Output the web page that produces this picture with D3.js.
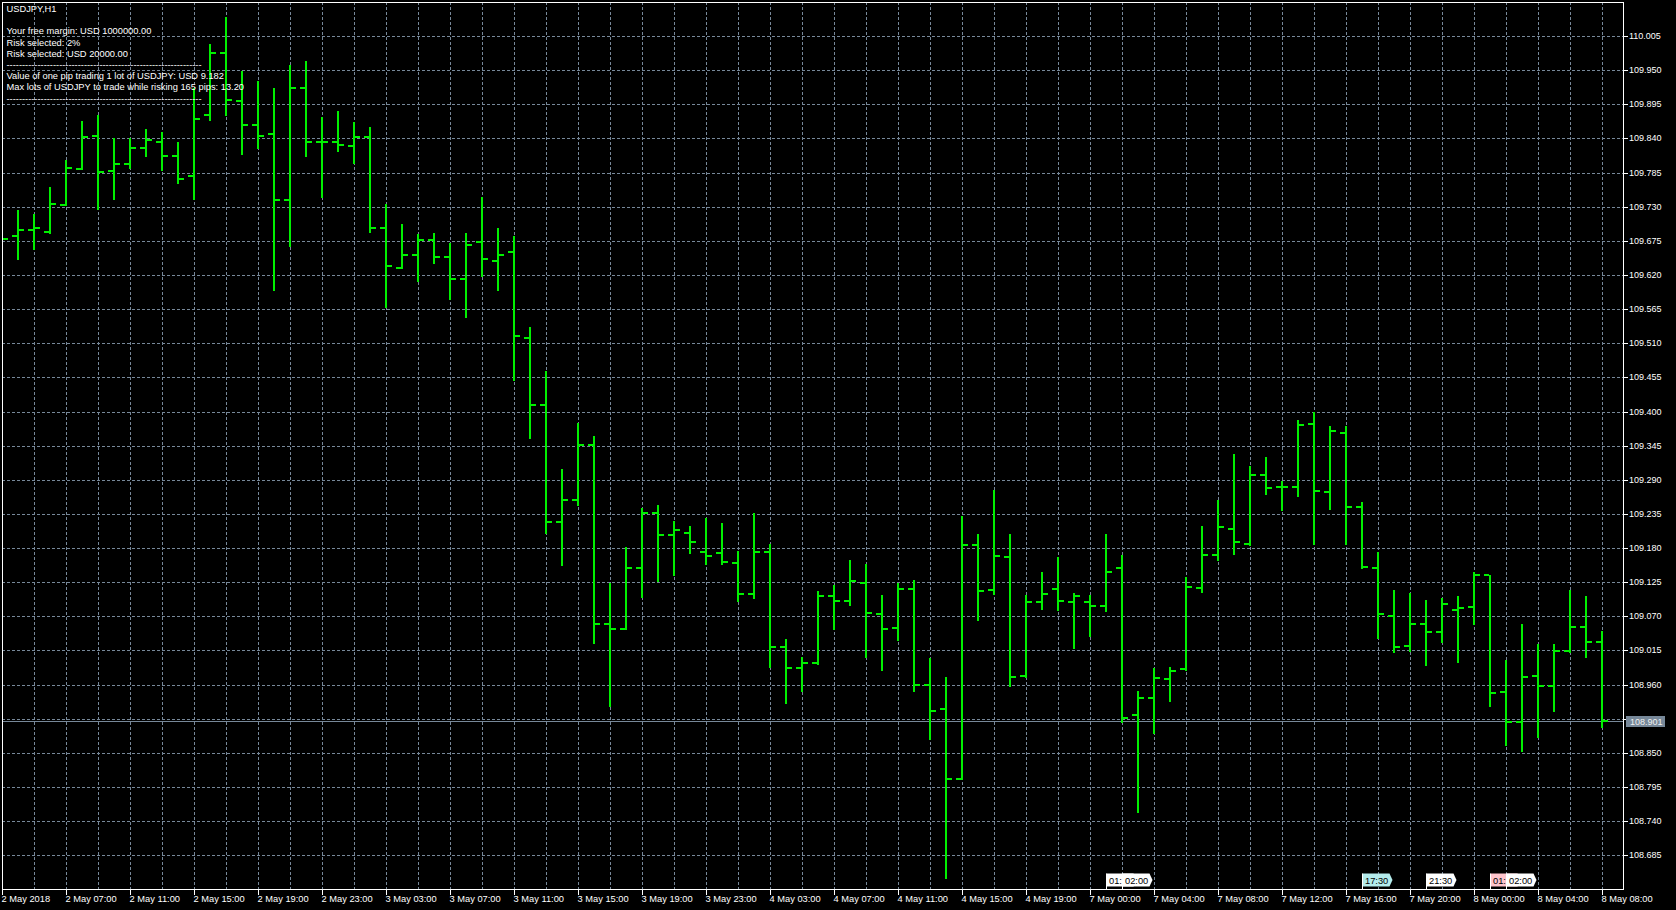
<!DOCTYPE html>
<html>
<head>
<meta charset="utf-8">
<script src="https://cdn.jsdelivr.net/npm/d3@7/dist/d3.min.js"></script>
<style>
    body { margin: 0; background: #000; overflow: hidden; }
    svg text { font-family: "Liberation Sans", Arial, sans-serif; }
</style>
</head>
<body>
<div id="rootDiv"></div>
<script>
// trading sessions shown on the chart (day, first hour, last hour) - weekend gap after 4 May
const sessions = [["2 May", 3, 23], ["3 May", 0, 23], ["4 May", 0, 22], ["7 May", 0, 23], ["8 May", 0, 8]]
const categories = []
for (const [day, from, to] of sessions) {
    for (let h = from; h <= to; h++) categories.push(`${day} ${String(h).padStart(2, '0')}:00`)
}

const open = [
    109.685, 109.683, 109.692, 109.690, 109.733, 109.791, 109.844, 109.788, 109.798, 109.825,
    109.835, 109.812, 109.780, 109.877, 109.977, 109.901, 109.862, 109.847, 109.741, 109.922,
    109.834, 109.834, 109.828, 109.843, 109.695, 109.632, 109.652, 109.677, 109.649, 109.614,
    109.673, 109.643, 109.657, 109.519, 109.410, 109.222, 109.257, 109.346, 109.057, 109.049,
    109.148, 109.236, 109.201, 109.205, 109.174, 109.172, 109.156, 109.106, 109.173, 109.021,
    108.986, 108.995, 109.102, 109.094, 109.124, 109.074, 109.051, 109.114, 108.959, 108.920,
    108.808, 109.185, 109.112, 109.165, 108.974, 109.093, 109.114, 109.093, 109.093, 109.086,
    109.148, 108.911, 108.938, 108.969, 108.985, 109.115, 109.169, 109.210, 109.186, 109.297,
    109.278, 109.278, 109.380, 109.270, 109.365, 109.246, 109.148, 109.071, 109.022, 109.057,
    109.045, 109.080, 109.085, 109.136, 108.948, 108.899, 108.974, 108.958, 109.014, 109.053,
    109.028
]
const high = [
    109.700, 109.725, 109.718, 109.761, 109.806, 109.868, 109.877, 109.840, 109.840, 109.855,
    109.851, 109.835, 109.922, 109.992, 110.036, 109.948, 109.933, 109.921, 109.958, 109.965,
    109.875, 109.884, 109.867, 109.858, 109.735, 109.702, 109.686, 109.688, 109.671, 109.688,
    109.745, 109.695, 109.683, 109.536, 109.465, 109.307, 109.381, 109.360, 109.124, 109.181,
    109.245, 109.249, 109.223, 109.215, 109.228, 109.220, 109.176, 109.236, 109.186, 109.034,
    109.004, 109.111, 109.121, 109.160, 109.154, 109.105, 109.123, 109.128, 109.003, 108.973,
    109.232, 109.203, 109.273, 109.203, 109.105, 109.142, 109.165, 109.108, 109.104, 109.203,
    109.169, 108.949, 108.986, 108.988, 109.133, 109.216, 109.257, 109.331, 109.312, 109.327,
    109.288, 109.387, 109.399, 109.377, 109.376, 109.255, 109.174, 109.113, 109.107, 109.096,
    109.099, 109.102, 109.141, 109.137, 108.999, 109.058, 109.025, 109.025, 109.113, 109.102,
    109.046
]
const low = [
    109.655, 109.645, 109.662, 109.687, 109.732, 109.791, 109.726, 109.743, 109.792, 109.811,
    109.789, 109.768, 109.742, 109.869, 109.878, 109.815, 109.824, 109.595, 109.667, 109.811,
    109.746, 109.819, 109.800, 109.689, 109.568, 109.632, 109.611, 109.639, 109.582, 109.553,
    109.618, 109.595, 109.451, 109.358, 109.204, 109.152, 109.250, 109.027, 108.926, 109.049,
    109.101, 109.127, 109.137, 109.172, 109.154, 109.155, 109.095, 109.100, 108.989, 108.931,
    108.949, 108.993, 109.049, 109.088, 109.005, 108.983, 109.032, 108.949, 108.872, 108.648,
    108.808, 109.064, 109.106, 108.957, 108.973, 109.082, 109.080, 109.019, 109.039, 109.078,
    108.900, 108.754, 108.882, 108.934, 108.984, 109.109, 109.160, 109.171, 109.185, 109.267,
    109.242, 109.264, 109.186, 109.243, 109.187, 109.148, 109.035, 109.012, 109.014, 108.991,
    109.028, 108.996, 109.057, 108.925, 108.862, 108.853, 108.876, 108.917, 109.012, 109.004,
    108.892
]
const close = [
    109.678, 109.693, 109.696, 109.735, 109.792, 109.843, 109.786, 109.798, 109.825, 109.837,
    109.812, 109.775, 109.872, 109.977, 109.902, 109.862, 109.844, 109.741, 109.922, 109.834,
    109.834, 109.829, 109.842, 109.696, 109.634, 109.652, 109.676, 109.649, 109.614, 109.668,
    109.645, 109.652, 109.522, 109.410, 109.222, 109.257, 109.346, 109.057, 109.049, 109.148,
    109.236, 109.201, 109.209, 109.189, 109.168, 109.158, 109.106, 109.173, 109.021, 108.986,
    108.995, 109.102, 109.094, 109.127, 109.076, 109.050, 109.114, 108.960, 108.918, 108.808,
    109.185, 109.111, 109.167, 108.973, 109.093, 109.106, 109.094, 109.102, 109.086, 109.141,
    108.907, 108.938, 108.970, 108.982, 109.117, 109.169, 109.214, 109.189, 109.297, 109.276,
    109.278, 109.379, 109.272, 109.368, 109.246, 109.149, 109.074, 109.020, 109.057, 109.045,
    109.090, 109.083, 109.136, 108.946, 108.899, 108.972, 108.958, 109.014, 109.053, 109.028,
    108.901
]

const priceTicks = [
    110.005, 109.950, 109.895, 109.840, 109.785, 109.730, 109.675, 109.620, 109.565, 109.510,
    109.455, 109.400, 109.345, 109.290, 109.235, 109.180, 109.125, 109.070, 109.015, 108.960,
    108.905, 108.850, 108.795, 108.740, 108.685
]
const lastPrice = 108.901
const firstTimeLabel = "2 May 2018"

const infoLines = [
    "USDJPY,H1",
    "",
    "Your free margin: USD 1000000.00",
    "Risk selected: 2%",
    "Risk selected: USD 20000.00",
    "---------------------------------------------------------------",
    "Value of one pip trading 1 lot of USDJPY: USD 9.182",
    "Max lots of USDJPY to trade while risking 165 pips: 13.20",
    "---------------------------------------------------------------"
]

const events = [
    { time: "7 May 01:00", label: "01:00", kind: "plain" },
    { time: "7 May 02:00", label: "02:00", kind: "plain" },
    { time: "7 May 17:00", label: "17:30", kind: "cyan" },
    { time: "7 May 21:00", label: "21:30", kind: "plain" },
    { time: "8 May 01:00", label: "01:00", kind: "pink" },
    { time: "8 May 02:00", label: "02:00", kind: "plain" }
]

// ---- layout / colours
const W = 1676, H = 910
const plot = { left: 2, right: 1623, top: 2, bottom: 889 }
const barColor = "#00f000"
const gridColor = "#778899"
const eventColors = { plain: "#ffffff", cyan: "#b4ecec", pink: "#ffc4cc" }
const flagWidth = 27

const x = d3.scalePoint()
    .domain(categories)
    .range([2, 1602])

const y = d3.scaleLinear()
    .domain([108.685, 110.005])
    .range([855.3, 36])

const svg = d3.select("#rootDiv")
    .append("svg")
    .attr("width", W)
    .attr("height", H)
    .style("display", "block")
    .style("background", "#000")

svg.append("clipPath").attr("id", "plotClip")
    .append("rect")
    .attr("x", plot.left + 1).attr("y", plot.top + 1)
    .attr("width", plot.right - plot.left - 1).attr("height", plot.bottom - plot.top - 1)

const inner = svg.append("g").attr("clip-path", "url(#plotClip)")

// grid
inner.append("g")
    .selectAll("line")
    .data(priceTicks)
    .enter()
    .append("line")
    .attr("x1", plot.left).attr("x2", plot.right)
    .attr("y1", d => Math.round(y(d)) + 0.5)
    .attr("y2", d => Math.round(y(d)) + 0.5)
    .attr("stroke", gridColor)
    .attr("stroke-dasharray", "3,2")

inner.append("g")
    .selectAll("line")
    .data(categories.filter((d, i) => i % 2 == 0 && i > 0))
    .enter()
    .append("line")
    .attr("x1", d => Math.round(x(d)) + 0.5)
    .attr("x2", d => Math.round(x(d)) + 0.5)
    .attr("y1", plot.top).attr("y2", plot.bottom)
    .attr("stroke", gridColor)
    .attr("stroke-dasharray", "3,2")

// last price line
inner.append("line")
    .attr("x1", plot.left).attr("x2", plot.right)
    .attr("y1", Math.round(y(lastPrice)) + 0.5)
    .attr("y2", Math.round(y(lastPrice)) + 0.5)
    .attr("stroke", gridColor)

// OHLC bars
const bars = inner.append("g")
    .attr("fill", barColor)
    .attr("shape-rendering", "crispEdges")
    .selectAll("g")
    .data(categories.map((c, i) => ({ c, o: open[i], h: high[i], l: low[i], cl: close[i] })))
    .enter()
    .append("g")

bars.append("rect")
    .attr("x", d => Math.round(x(d.c)) - 1)
    .attr("width", 2)
    .attr("y", d => Math.round(y(d.h)))
    .attr("height", d => Math.max(2, Math.round(y(d.l)) - Math.round(y(d.h)) + 1))

bars.append("rect")
    .attr("x", d => Math.round(x(d.c)) - 6)
    .attr("width", 5)
    .attr("y", d => Math.round(y(d.o)) - 1)
    .attr("height", 2)

bars.append("rect")
    .attr("x", d => Math.round(x(d.c)) + 1)
    .attr("width", 5)
    .attr("y", d => Math.round(y(d.cl)) - 1)
    .attr("height", 2)

// axes
const priceAxis = svg.append("g")
    .attr("transform", `translate(${plot.right},0)`)
    .call(d3.axisRight(y).tickValues(priceTicks).tickSize(5).tickPadding(1).tickFormat(d3.format(".3f")))

const timeTicks = categories.filter((d, i) => i % 4 == 0)
const timeAxis = svg.append("g")
    .attr("transform", `translate(0,${plot.bottom})`)
    .call(d3.axisBottom(x).tickValues(timeTicks).tickSize(6)
        .tickFormat((d, i) => i == 0 ? firstTimeLabel : d))

for (const axis of [priceAxis, timeAxis]) {
    axis.select(".domain").remove()
    axis.selectAll("line").attr("stroke", "#fff").attr("shape-rendering", "crispEdges")
    axis.selectAll("text").attr("fill", "#fff").style("font-size", "9.3px")
}
priceAxis.selectAll(".tick").attr("transform", d => `translate(0,${Math.round(y(d)) + 0.5})`)
priceAxis.selectAll("text").style("font-size", "9px")
timeAxis.selectAll(".tick").attr("transform", d => `translate(${Math.round(x(d)) + 0.5},0)`)
timeAxis.selectAll("text")
    .attr("text-anchor", "start")
    .attr("x", -1)
    .attr("y", 13)
    .attr("dy", 0)

// last price label
const lp = svg.append("g").attr("transform", `translate(1626,${Math.round(y(lastPrice))})`)
lp.append("rect").attr("x", 0).attr("y", -5).attr("width", 39).attr("height", 11).attr("fill", gridColor)
lp.append("text").attr("x", 4).attr("y", 3.5).attr("fill", "#f0f0f0").style("font-size", "9px").text(d3.format(".3f")(lastPrice))

// border
svg.append("rect")
    .attr("x", plot.left + 0.5).attr("y", plot.top + 0.5)
    .attr("width", plot.right - plot.left).attr("height", plot.bottom - plot.top)
    .attr("fill", "none")
    .attr("stroke", "#fff")
    .attr("shape-rendering", "crispEdges")

// event flags on the time axis; a flag covered by the next one only shows its first chars
function visibleLabel(d, i) {
    const next = events[i + 1]
    if (next && x(next.time) - x(d.time) < flagWidth) return d.label.slice(0, 3)
    return d.label
}

const flags = svg.append("g")
    .selectAll("g")
    .data(events)
    .enter()
    .append("g")
    .attr("transform", d => `translate(${Math.round(x(d.time)) + 0.5},873.5)`)

flags.append("path")
    .attr("d", `M0,0 H${flagWidth} L${flagWidth + 3},6.5 L${flagWidth},13 H0 Z`)
    .attr("fill", d => eventColors[d.kind])
flags.append("line")
    .attr("x1", 0).attr("x2", 0).attr("y1", 0).attr("y2", 16)
    .attr("stroke", "#fff")
flags.append("text")
    .attr("x", 2.5).attr("y", 10.5)
    .attr("fill", "#000")
    .style("font-size", "9.3px")
    .text(visibleLabel)

// info text, top left
svg.append("g")
    .selectAll("text")
    .data(infoLines)
    .enter()
    .append("text")
    .attr("x", 6.5)
    .attr("y", (d, i) => i == 0 ? 12 : 12 + i * 11.2)
    .attr("fill", "#fff")
    .style("font-size", "9.3px")
    .text(d => d)
</script>
</body>
</html>
